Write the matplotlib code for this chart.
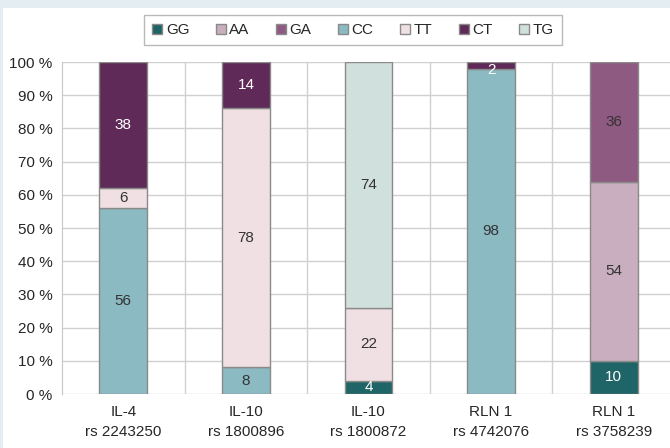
import numpy as np
import matplotlib
matplotlib.use("Agg")
import matplotlib.pyplot as plt
from matplotlib.patches import Rectangle

plt.rcParams['font.family'] = ['Liberation Sans', 'DejaVu Sans']

categories = ["IL-4\nrs 2243250", "IL-10\nrs 1800896", "IL-10\nrs 1800872",
              "RLN 1\nrs 4742076", "RLN 1\nrs 3758239"]
genotypes = ["GG", "AA", "GA", "CC", "TT", "CT", "TG"]
gg = [0, 0, 4, 0, 10]
aa = [0, 0, 0, 0, 54]
ga = [0, 0, 0, 0, 36]
cc = [56, 8, 0, 98, 0]
tt = [6, 78, 22, 0, 0]
ct = [38, 14, 0, 2, 0]
tg = [0, 0, 74, 0, 0]
yticks = [0, 10, 20, 30, 40, 50, 60, 70, 80, 90, 100]

series = [gg, aa, ga, cc, tt, ct, tg]
colors = ["#1f6466", "#c9aebf", "#8f5a82", "#8bbac3", "#f0e0e4", "#5f2a58", "#d0e0dc"]
label_colors = ["white", "#333333", "#333333", "#333333", "#333333", "white", "#333333"]

text_color = "#262626"
fig = plt.figure(figsize=(6.70, 4.48), dpi=100)
fig.patch.set_facecolor("white")
# light frame band along the top and left edges
fig.add_artist(Rectangle((0, 1 - 8 / 448), 1, 8 / 448, transform=fig.transFigure,
                         facecolor="#e4edf1", edgecolor="none", zorder=0))
fig.add_artist(Rectangle((0, 0), 3 / 670, 1, transform=fig.transFigure,
                         facecolor="#e4edf1", edgecolor="none", zorder=0))

ax = fig.add_axes([62 / 670, 54 / 448, 613 / 670, 332 / 448])
x = np.arange(len(categories))
width = 0.39
bottom = np.zeros(len(categories))
handles = []
for name, vals, col, lcol in zip(genotypes, series, colors, label_colors):
    vals = np.array(vals, dtype=float)
    idx = np.nonzero(vals)[0]
    h = ax.bar(x[idx], vals[idx], width, bottom=bottom[idx], color=col,
               edgecolor="#8a8a8a", linewidth=1.0, zorder=3, label=name)
    handles.append(h)
    for i in idx:
        yc = min(bottom[i] + vals[i] / 2, 97.7)
        ax.text(x[i], yc, f"{int(vals[i])}", ha="center", va="center",
                fontsize=11, color=lcol, zorder=4)
    bottom += vals

ax.set_xlim(-0.5, len(categories) - 0.5)
ax.set_ylim(0, 100)
ax.set_yticks(yticks)
ax.set_yticklabels([f"{v} %" for v in yticks])
ax.set_xticks(x)
ax.set_xticklabels(categories, linespacing=1.5)
ax.tick_params(axis="both", length=0, labelsize=11, colors=text_color)
ax.tick_params(axis="y", pad=7)
ax.tick_params(axis="x", pad=8)

ax.set_xticks(np.arange(0.5, len(categories) - 0.5), minor=True)
ax.tick_params(axis="x", which="minor", length=0)
ax.grid(axis="y", which="major", color="#d0d0d0", linewidth=1.0, zorder=0)
ax.grid(axis="x", which="minor", color="#d0d0d0", linewidth=1.0, zorder=0)
ax.grid(axis="x", which="major", visible=False)
for side in ["top", "right", "bottom"]:
    ax.spines[side].set_visible(False)
ax.spines["left"].set_color("#c8c8c8")

leg = fig.legend(handles=handles, labels=genotypes, loc="center",
                 bbox_to_anchor=(353 / 670, 1 - 30 / 448), ncol=7, fontsize=11,
                 frameon=True, fancybox=False, edgecolor="#a8a8a8",
                 handlelength=0.65, handleheight=0.65, handletextpad=0.25,
                 columnspacing=1.72, borderpad=0.5, labelcolor=text_color)
leg.get_frame().set_linewidth(1.0)

fig.savefig("out.png", dpi=100, facecolor=fig.get_facecolor())
